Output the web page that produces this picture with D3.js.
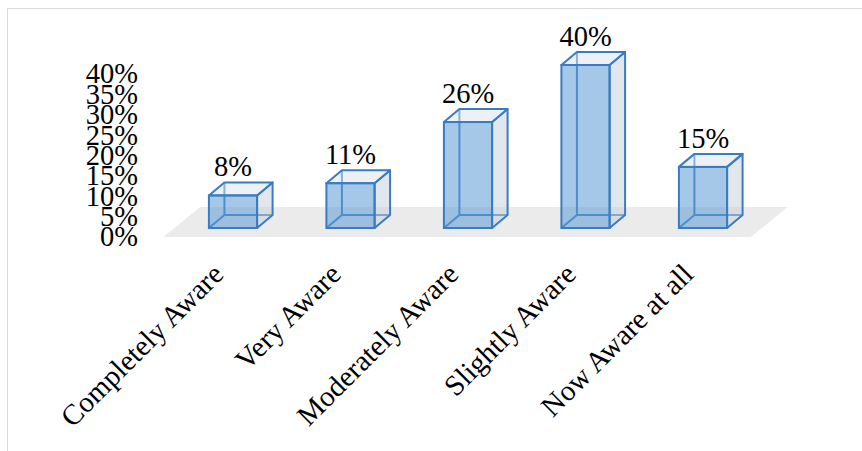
<!DOCTYPE html>
<html>
<head>
<meta charset="utf-8">
<script src="https://cdn.jsdelivr.net/npm/d3@7/dist/d3.min.js"></script>
<style>
  html, body { margin: 0; padding: 0; background: #ffffff; }
  svg { display: block; }
  text { font-family: "Liberation Serif", "Times New Roman", serif; fill: #000; }
</style>
</head>
<body>
<script>
// ---- data ----
const categories = ["Completely Aware", "Very Aware", "Moderately Aware", "Slightly Aware", "Now Aware at all"];
const values = [0.08, 0.11, 0.26, 0.40, 0.15];
const valueLabels = ["8%", "11%", "26%", "40%", "15%"];
const tickValues = [0, 0.05, 0.10, 0.15, 0.20, 0.25, 0.30, 0.35, 0.40];
const tickLabels = ["0%", "5%", "10%", "15%", "20%", "25%", "30%", "35%", "40%"];

// ---- layout ----
const W = 862, H = 451;
const svg = d3.select("body").append("svg").attr("width", W).attr("height", H);

// border of chart area
svg.append("path")
  .attr("d", `M7.5,${H} L7.5,8.5 L${W},8.5`)
  .attr("fill", "none").attr("stroke", "#d9d9d9").attr("stroke-width", 1);

const x = d3.scaleBand().domain(categories).range([174.25, 761.75]).padding(0);
const y = d3.scaleLinear().domain([0, 0.40]).range([228, 65]);
const barW = x.bandwidth() * 0.41;
const dx = 15.5, dy = -13;          // bar depth offset
const fdx = 37, fdy = -30;          // floor depth offset
const frontShift = { x: -11, y: 9 }; // floor front relative to bar front

// ---- floor ----
const fx0 = x.range()[0] + frontShift.x, fx1 = x.range()[1] + frontShift.x, fy = y(0) + frontShift.y;
svg.append("polygon")
  .attr("points", [[fx0, fy], [fx1, fy], [fx1 + fdx, fy + fdy], [fx0 + fdx, fy + fdy]].map(p => p.join(",")).join(" "))
  .attr("fill", "#ebebeb");

// ---- y-axis labels ----
svg.append("g").selectAll("text").data(tickValues).join("text")
  .attr("x", 138)
  .attr("y", d => y(d) + 9)
  .attr("dy", "0.33em")
  .attr("text-anchor", "end")
  .attr("font-size", 28.5)
  .text((d, i) => tickLabels[i]);

// ---- bars ----
const stroke = "#3A7CC2";
const line = d3.line();
const bars = svg.append("g").selectAll("g").data(categories).join("g");

bars.each(function (c, i) {
  const g = d3.select(this);
  const cx = x(c) + x.bandwidth() / 2;
  const x0 = cx - barW / 2, x1 = cx + barW / 2;
  const yb = y(0), yt = y(values[i]);
  // hidden edges
  g.append("path")
    .attr("d", line([[x0, yb], [x0 + dx, yb + dy]]) + line([[x0 + dx, yt + dy], [x0 + dx, yb + dy], [x1 + dx, yb + dy]]))
    .attr("fill", "none").attr("stroke", stroke).attr("stroke-width", 2);
  // right face
  g.append("polygon")
    .attr("points", [[x1, yt], [x1 + dx, yt + dy], [x1 + dx, yb + dy], [x1, yb]].map(p => p.join(",")).join(" "))
    .attr("fill", "#C5D0DC").attr("fill-opacity", 0.5)
    .attr("stroke", stroke).attr("stroke-width", 2).attr("stroke-linejoin", "round");
  // top face
  g.append("polygon")
    .attr("points", [[x0, yt], [x0 + dx, yt + dy], [x1 + dx, yt + dy], [x1, yt]].map(p => p.join(",")).join(" "))
    .attr("fill", "#DCE4EC").attr("fill-opacity", 0.5)
    .attr("stroke", stroke).attr("stroke-width", 2).attr("stroke-linejoin", "round");
  // front face
  g.append("rect")
    .attr("x", x0).attr("y", yt).attr("width", barW).attr("height", yb - yt)
    .attr("fill", "#5B9BD5").attr("fill-opacity", 0.55)
    .attr("stroke", stroke).attr("stroke-width", 2);
  // value label
  g.append("text")
    .attr("x", cx).attr("y", yt + dy - 6)
    .attr("text-anchor", "middle")
    .attr("font-size", 28.5)
    .text(valueLabels[i]);
});

// ---- category labels ----
svg.append("g").selectAll("text").data(categories).join("text")
  .attr("transform", d => `translate(${x(d) + x.bandwidth() / 2 - 8},276) rotate(-45)`)
  .attr("text-anchor", "end")
  .attr("font-size", 29)
  .text(d => d);
</script>
</body>
</html>
